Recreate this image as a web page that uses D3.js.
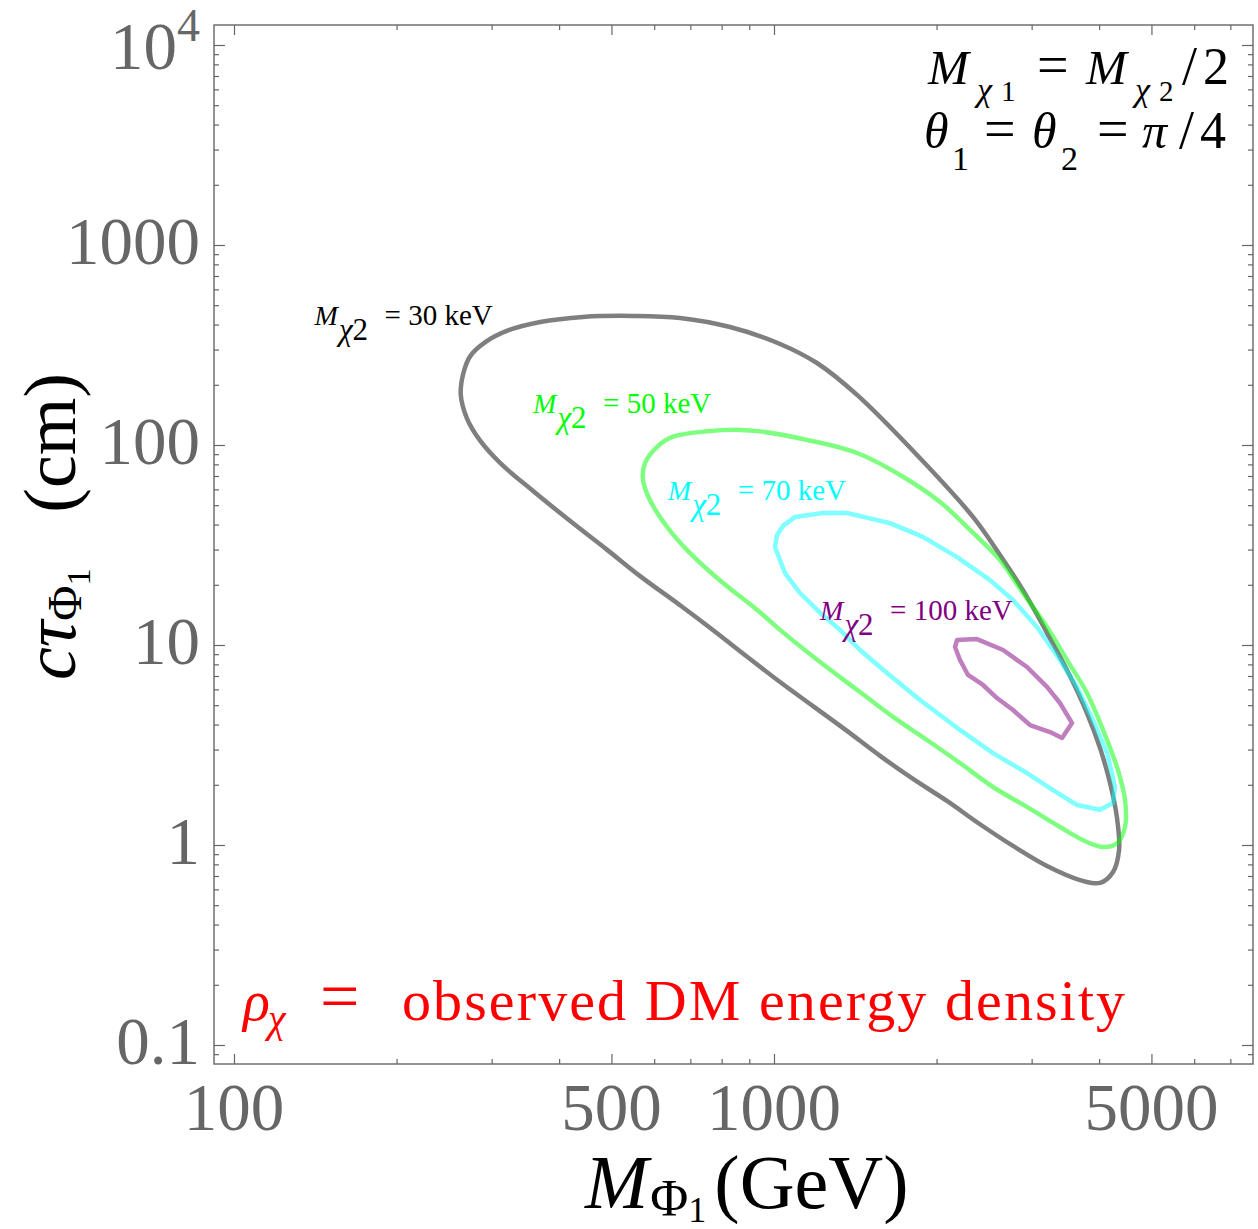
<!DOCTYPE html>
<html>
<head>
<meta charset="utf-8">
<script src="https://cdn.jsdelivr.net/npm/d3@7"></script>
<style>
  html, body { margin: 0; padding: 0; background: #fff; }
  svg { display: block; }
  text { font-family: "Liberation Serif", "Times New Roman", serif; }
</style>
</head>
<body>
<svg id="chart" width="1258" height="1229"></svg>
<script>
// ---------- data ----------
// x: M_Phi1 (GeV), y: c*tau_Phi1 (cm)
const contour30keV = [[263,178],[266,229],[274,279],[292,327],[320,372],[369,412],[443,437],[548,442],[670,432],[829,389],[1026,320],[1201,257],[1425,178],[1840,89.1],[2336,43.7],[2621,28.2],[2891,18.8],[3203,11.5],[3533,7.0],[3798,4.57],[4016,3.05],[4191,2.04],[4318,1.36],[4355,0.944],[4245,0.733],[4016,0.646],[3687,0.668],[3203,0.785],[2771,0.989],[2407,1.27],[2091,1.66],[1809,2.14],[1572,2.79],[1365,3.72],[1181,4.95],[1026,6.53],[903,8.51],[761,12.2],[670,15.8],[565,22.1],[491,29.9],[424,40.7],[358,58.9],[311,81.3],[285,106],[270,136]];
const contour50keV = [[572,66.8],[577,81.3],[607,97.7],[650,110],[751,117],[865,119],[942,117],[1151,106],[1425,91.2],[1712,70.8],[2030,51.9],[2307,37.6],[2621,26.6],[2891,18.2],[3203,12.3],[3489,8.41],[3798,5.75],[4067,3.76],[4318,2.45],[4467,1.68],[4467,1.23],[4318,1.02],[4067,0.977],[3798,1.035],[3385,1.23],[2941,1.55],[2544,1.95],[2210,2.57],[1920,3.35],[1661,4.37],[1443,5.82],[1217,8.22],[1026,11.9],[930,15.0],[805,20.4],[699,28.8],[634,38.9],[589,53.1]];
const contour70keV = [[1004,30.9],[1013,35.5],[1039,39.4],[1094,43.7],[1232,45.7],[1365,45.7],[1640,40.7],[1887,34.7],[2183,27.5],[2512,21.1],[2771,16.8],[3069,12.3],[3385,8.41],[3640,6.17],[3896,4.22],[4138,2.88],[4281,1.95],[4245,1.62],[4016,1.50],[3640,1.585],[3286,1.88],[2941,2.29],[2544,2.88],[2210,3.76],[1864,5.31],[1619,7.24],[1443,9.44],[1325,11.9],[1217,14.5],[1117,18.2],[1048,22.9]];
const contour100keV = [[2183,10.6],[2376,10.7],[2656,9.44],[2941,7.76],[3203,6.17],[3385,5.13],[3564,4.07],[3415,3.43],[3245,3.67],[2979,3.98],[2771,4.73],[2588,5.43],[2438,6.31],[2287,7.08],[2210,8.41],[2164,9.77]];

const massLabels = ["30 keV", "50 keV", "70 keV", "100 keV"];
// label anchor (data coords) for each contour label
const labelAnchors = [[141,398],[358,145],[636,53.1],[1217,13.3]];

const xMajorTicks = [100, 500, 1000, 5000];
const xMinorTicks = [200,300,400,600,700,800,900,2000,3000,4000,6000,7000];
const yMajorTicks = [0.1, 1, 10, 100, 1000, 10000];
const yTickLabels = ["0.1", "1", "10", "100", "1000", "10^4"];

// ---------- layout ----------
const L = 214, R = 1253, T = 25, B = 1064;
const svg = d3.select("#chart");

const x = d3.scaleLog().domain([Math.pow(10, 2 - 20/540), Math.pow(10, 2 + 1019/540)]).range([L, R]);
const y = d3.scaleLog().domain([Math.pow(10, 4.1), Math.pow(10, -1.095)]).range([T, B]);

const yMinorTicks = [];
[0.01, 0.1, 1, 10, 100, 1000].forEach(d => { for (let k = 2; k <= 9; k++) yMinorTicks.push(d * k); });
const yMinorIn = yMinorTicks.filter(v => v > y.domain()[1] && v < y.domain()[0]);

const axisColor = "#666666";

// frame
svg.append("rect").attr("x", L).attr("y", T).attr("width", R - L).attr("height", B - T)
  .attr("fill", "none").attr("stroke", axisColor).attr("stroke-width", 1.4);

function tickAxis(gen, scale, values, len, tx, ty) {
  const g = svg.append("g").attr("transform", `translate(${tx},${ty})`)
    .call(gen(scale).tickValues(values).tickSize(len).tickFormat(""));
  g.select(".domain").remove();
  g.selectAll(".tick line").attr("stroke", axisColor).attr("stroke-width", 1.2);
  return g;
}
tickAxis(d3.axisBottom, x, xMajorTicks, -10, 0, B);
tickAxis(d3.axisBottom, x, xMinorTicks, -5, 0, B);
tickAxis(d3.axisTop, x, xMajorTicks, -10, 0, T);
tickAxis(d3.axisTop, x, xMinorTicks, -5, 0, T);
tickAxis(d3.axisLeft, y, yMajorTicks, -11, L, 0);
tickAxis(d3.axisLeft, y, yMinorIn, -5, L, 0);
tickAxis(d3.axisRight, y, yMajorTicks, -11, R, 0);
tickAxis(d3.axisRight, y, yMinorIn, -5, R, 0);

// x tick labels
svg.append("g").selectAll("text").data(xMajorTicks).join("text")
  .attr("x", d => x(d)).attr("y", 1130).attr("text-anchor", "middle")
  .attr("font-size", 67).attr("fill", axisColor).text(d => d);

// y tick labels
yMajorTicks.forEach((v, i) => {
  const lab = yTickLabels[i];
  if (lab.includes("^")) {
    const [base, exp] = lab.split("^");
    const t = svg.append("text").attr("x", 200).attr("y", y(v) + 24)
      .attr("text-anchor", "end").attr("font-size", 67).attr("fill", axisColor);
    t.append("tspan").text(base);
    t.append("tspan").attr("font-size", 46).attr("dy", -28).text(exp);
  } else {
    svg.append("text").attr("x", 200).attr("y", y(v) + 19)
      .attr("text-anchor", "end").attr("font-size", 67).attr("fill", axisColor).text(lab);
  }
});

// ---------- contours ----------
const line = d3.line().x(d => x(d[0])).y(d => y(d[1]));
const contours = [
  { data: contour30keV, color: "#000000", curve: d3.curveCatmullRomClosed.alpha(0.5) },
  { data: contour50keV, color: "#00ff00", curve: d3.curveCatmullRomClosed.alpha(0.5) },
  { data: contour70keV, color: "#00ffff", curve: d3.curveLinearClosed },
  { data: contour100keV, color: "#800080", curve: d3.curveLinearClosed }
];
contours.forEach(c => {
  svg.append("path").datum(c.data)
    .attr("d", line.curve(c.curve))
    .attr("fill", "none").attr("stroke", c.color).attr("stroke-opacity", 0.5)
    .attr("stroke-width", 4.5).attr("stroke-linejoin", "round");
});

// contour labels
const labelColors = ["#000000", "#00ff00", "#00ffff", "#800080"];
massLabels.forEach((m, i) => {
  const px = x(labelAnchors[i][0]), py = y(labelAnchors[i][1]);
  const t = svg.append("text").attr("x", px).attr("y", py).attr("font-size", 28).attr("fill", labelColors[i]);
  t.append("tspan").attr("font-style", "italic").text("M");
  t.append("tspan").attr("dy", 15).attr("dx", 1).attr("font-size", 31).attr("font-style", "italic").text("χ");
  t.append("tspan").attr("font-size", 31).text("2");
  svg.append("text").attr("x", px + 70).attr("y", py).attr("font-size", 29)
    .attr("fill", labelColors[i]).text("= " + m);
});

// ---------- annotations (one text element per line, pieces placed as tspans) ----------
function line2text(px0, py0, pieces, color) {
  const t = svg.append("text").attr("x", px0).attr("y", py0).attr("fill", color || "#000");
  pieces.forEach(p => {
    const s = t.append("tspan").attr("x", p[1]).attr("y", p[2]).attr("font-size", p[3]).text(p[0]);
    if (p[4]) s.attr("font-style", "italic");
  });
  return t;
}
// [text, x, y, size, italic]
line2text(928, 84, [
  ["M", 928, 84, 49, true], ["χ", 977, 101, 34, true], ["1", 1001, 101, 29, false],
  ["=", 1037, 84, 56, false],
  ["M", 1086, 84, 49, true], ["χ", 1135, 101, 34, true], ["2", 1159, 101, 29, false],
  ["/", 1182, 84, 54, false], ["2", 1203, 84, 52, false]
]);
line2text(924, 148, [
  ["θ", 924, 148, 50, true], ["1", 952, 170, 34, false],
  ["=", 984, 148, 56, false],
  ["θ", 1032, 148, 50, true], ["2", 1061, 170, 34, false],
  ["=", 1097, 148, 56, false],
  ["π", 1142, 148, 50, true], ["/", 1179, 148, 54, false], ["4", 1200, 148, 52, false]
]);

// red bottom text
const red = "#ff0000";
line2text(243, 1020, [
  ["ρ", 243, 1020, 56, true], ["χ", 268, 1032, 40, true], ["=", 320, 1020, 70, false]
], red);
svg.append("text").attr("x", 402).attr("y", 1020).attr("font-size", 58).attr("letter-spacing", 2.1)
  .attr("fill", red).text("observed DM energy density");

// x axis title
const xt = svg.append("text").attr("x", 585).attr("y", 1208).attr("font-size", 76).attr("fill", "#000");
xt.append("tspan").attr("font-style", "italic").text("M");
xt.append("tspan").attr("font-size", 52).attr("dy", 8).attr("dx", 2).text("Φ");
xt.append("tspan").attr("font-size", 36).attr("dy", 6).text("1");
xt.append("tspan").attr("dy", -14).attr("dx", 8).text("(GeV)");

// y axis title (two parts, rotated)
const yt = svg.append("text").attr("transform", "translate(75,680) rotate(-90)")
  .attr("text-anchor", "start").attr("font-size", 74).attr("fill", "#000");
yt.append("tspan").attr("font-style", "italic").text("cτ");
yt.append("tspan").attr("font-size", 48).attr("dy", 6).text("Φ");
yt.append("tspan").attr("font-size", 34).attr("dy", 9).text("1");
svg.append("text").attr("transform", "translate(75,373) rotate(-90)")
  .attr("text-anchor", "end").attr("font-size", 74).attr("fill", "#000").text("(cm)");
</script>
</body>
</html>
